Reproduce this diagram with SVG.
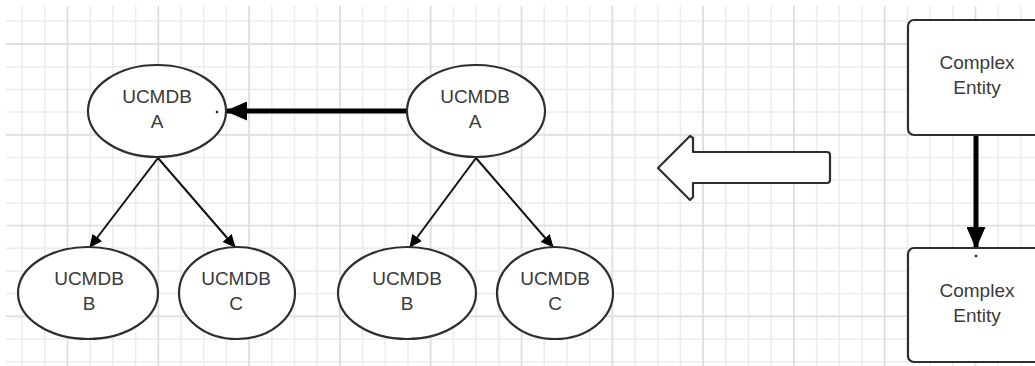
<svg xmlns="http://www.w3.org/2000/svg" width="1035" height="366" viewBox="0 0 1035 366">
  <style>
    .minor { stroke: #ececec; stroke-width: 1.5; fill: none; }
    .major { stroke: #dedede; stroke-width: 1.8; fill: none; }
    .shape { fill: #ffffff; stroke: #2e2e2e; stroke-width: 2.2; }
    .lbl { font-family: "Liberation Sans", Arial, sans-serif; font-size: 19px; fill: #3a3a3a; text-anchor: middle; }
    .thin { stroke: #111; stroke-width: 2; fill: none; }
    .thick { stroke: #000; stroke-width: 5; fill: none; }
  </style>
  <defs>
    <marker id="headThin" markerUnits="userSpaceOnUse" markerWidth="13" markerHeight="12" refX="12" refY="6" orient="auto">
      <path d="M0,0 L13,6 L0,12 z" fill="#000"/>
    </marker>
    <marker id="headThick" markerUnits="userSpaceOnUse" markerWidth="22" markerHeight="19" refX="21" refY="9.5" orient="auto">
      <path d="M0,0 L22,9.5 L0,19 z" fill="#000"/>
    </marker>
  </defs>
  <rect x="0" y="0" width="1035" height="366" fill="#ffffff"/>
  <g id="grid">
    <path class="minor" d="M22.1,6V366 M44.8,6V366 M90.2,6V366 M112.9,6V366 M135.6,6V366 M181,6V366 M203.7,6V366 M226.4,6V366 M271.8,6V366 M294.5,6V366 M317.2,6V366 M362.6,6V366 M385.3,6V366 M408,6V366 M453.4,6V366 M476.1,6V366 M498.8,6V366 M544.2,6V366 M566.9,6V366 M589.6,6V366 M635,6V366 M657.7,6V366 M680.4,6V366 M725.8,6V366 M748.5,6V366 M771.2,6V366 M816.6,6V366 M839.3,6V366 M862,6V366 M907.4,6V366 M930.1,6V366 M952.8,6V366 M998.2,6V366 M1020.9,6V366
      M6,21.3H1035 M6,66.7H1035 M6,89.4H1035 M6,112.1H1035 M6,157.5H1035 M6,180.2H1035 M6,202.9H1035 M6,248.3H1035 M6,271H1035 M6,293.7H1035 M6,339.1H1035 M6,361.8H1035"/>
    <path class="major" d="M67.5,6V366 M158.3,6V366 M249.1,6V366 M339.9,6V366 M430.7,6V366 M521.5,6V366 M612.3,6V366 M703.1,6V366 M793.9,6V366 M884.7,6V366 M975.5,6V366
      M6,44H1035 M6,134.8H1035 M6,225.6H1035 M6,316.4H1035"/>
  </g>
  <g id="connectors">
    <line class="thick" x1="407" y1="111" x2="226" y2="111" marker-end="url(#headThick)"/>
    <line class="thin" x1="158" y1="158" x2="90" y2="247" marker-end="url(#headThin)"/>
    <line class="thin" x1="158" y1="158" x2="235" y2="247" marker-end="url(#headThin)"/>
    <line class="thin" x1="476" y1="158" x2="410" y2="247" marker-end="url(#headThin)"/>
    <line class="thin" x1="476" y1="158" x2="553" y2="247" marker-end="url(#headThin)"/>
    <line class="thick" x1="976" y1="136" x2="976" y2="248" marker-end="url(#headThick)"/>
  </g>
  <g id="left-A">
    <ellipse class="shape" cx="157" cy="111" rx="69" ry="46"/>
    <text class="lbl" x="157" y="103">UCMDB</text>
    <text class="lbl" x="157" y="128">A</text>
    <circle cx="217" cy="112" r="1.3" fill="#222"/>
  </g>
  <g id="left-B">
    <ellipse class="shape" cx="88" cy="293" rx="70" ry="46"/>
    <text class="lbl" x="89" y="285">UCMDB</text>
    <text class="lbl" x="89" y="310">B</text>
  </g>
  <g id="left-C">
    <ellipse class="shape" cx="237" cy="293" rx="58" ry="46"/>
    <text class="lbl" x="236" y="285">UCMDB</text>
    <text class="lbl" x="236" y="310">C</text>
  </g>
  <g id="right-A">
    <ellipse class="shape" cx="476" cy="111" rx="69" ry="46"/>
    <text class="lbl" x="475" y="103">UCMDB</text>
    <text class="lbl" x="475" y="128">A</text>
  </g>
  <g id="right-B">
    <ellipse class="shape" cx="407" cy="293" rx="69" ry="46"/>
    <text class="lbl" x="407" y="285">UCMDB</text>
    <text class="lbl" x="407" y="310">B</text>
  </g>
  <g id="right-C">
    <ellipse class="shape" cx="555" cy="293" rx="58" ry="46"/>
    <text class="lbl" x="555" y="285">UCMDB</text>
    <text class="lbl" x="555" y="310">C</text>
  </g>
  <g id="block-arrow">
    <path class="shape" stroke-width="2.5" stroke-linejoin="round" d="M658,168 L690,136 L693,138 L693,152 L827,152 Q830,152 830,155 L830,180 Q830,183 827,183 L693,183 L693,197 L690,200 Z"/>
  </g>
  <g id="entity-top">
    <rect class="shape" stroke-width="2.5" x="908" y="20" width="140" height="115" rx="6"/>
    <text class="lbl" x="977" y="69">Complex</text>
    <text class="lbl" x="977" y="94">Entity</text>
  </g>
  <g id="entity-bottom">
    <rect class="shape" stroke-width="2.5" x="908" y="248" width="140" height="114" rx="6"/>
    <circle cx="976" cy="256" r="1.3" fill="#222"/>
    <text class="lbl" x="977" y="297">Complex</text>
    <text class="lbl" x="977" y="322">Entity</text>
  </g>
</svg>
